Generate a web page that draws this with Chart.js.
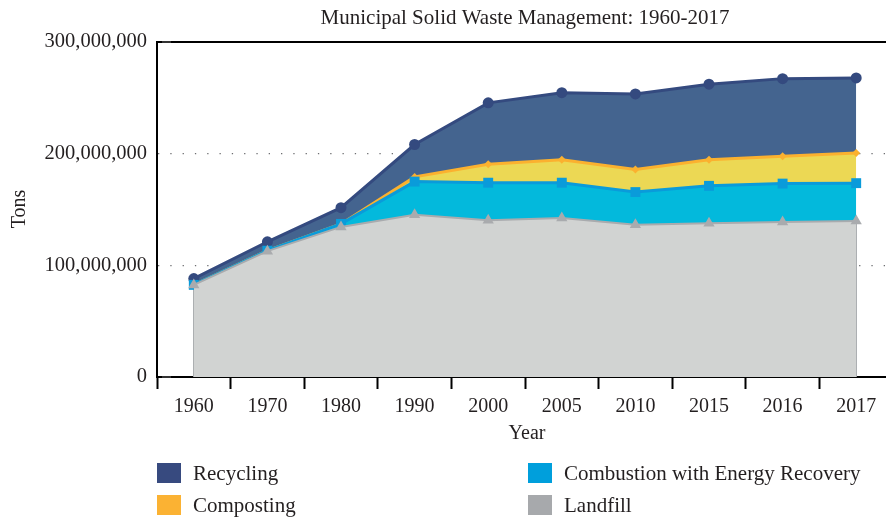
<!DOCTYPE html>
<html>
<head>
<meta charset="utf-8">
<script src="https://cdn.jsdelivr.net/npm/chart.js@4"></script>
<style>
  html, body { margin: 0; padding: 0; overflow: hidden; background: #fff; }
  #wrap { width: 900px; height: 517px; }
</style>
</head>
<body>
<div id="wrap"><canvas id="c" width="900" height="517"></canvas></div>
<script>
const title = 'Municipal Solid Waste Management: 1960-2017';
const years = ['1960', '1970', '1980', '1990', '2000', '2005', '2010', '2015', '2016', '2017'];
// stacked increments (tons)
const landfill   = [82500000, 112700000, 134400000, 145300000, 140300000, 142300000, 136300000, 137700000, 138900000, 139600000];
const combustion = [0, 400000, 2700000, 29700000, 33700000, 31700000, 29300000, 33500000, 34300000, 34000000];
const composting = [0, 0, 0, 4200000, 16500000, 20600000, 20200000, 23400000, 24500000, 27000000];
const recycling  = [5600000, 8000000, 14500000, 29000000, 55000000, 60000000, 67700000, 67600000, 69500000, 67200000];
const yTicks = [0, 100000000, 200000000, 300000000];
const legendItems = ['Recycling', 'Composting', 'Combustion with Energy Recovery', 'Landfill'];
const legendColors = ['#374A7F', '#FBB233', '#009FDC', '#A7A9AC'];

const FONT = '"Liberation Serif", "DejaVu Serif", serif';
const TEXT = '#231F20';

const decor = {
  id: 'decor',
  beforeDatasetsDraw(chart) {
    const { ctx, scales } = chart;
    const x = scales.x, y = scales.y;
    ctx.save();
    ctx.strokeStyle = '#A7A9AC';
    ctx.lineWidth = 1.5;
    [0, years.length - 1].forEach(i => {
      const px = x.getPixelForValue(i);
      ctx.beginPath();
      ctx.moveTo(px, y.getPixelForValue(landfill[i]));
      ctx.lineTo(px, y.getPixelForValue(0));
      ctx.stroke();
    });
    ctx.restore();
  },
  afterDraw(chart) {
    const { ctx, chartArea: a, scales } = chart;
    ctx.save();
    // top border
    ctx.strokeStyle = '#000';
    ctx.lineWidth = 2;
    ctx.beginPath();
    ctx.moveTo(a.left - 1, a.top);
    ctx.lineTo(a.right, a.top);
    ctx.stroke();
    // small inner y ticks at the ends
    ctx.strokeStyle = '#333';
    ctx.lineWidth = 2;
    [0, 300000000].forEach(v => {
      const py = scales.y.getPixelForValue(v);
      ctx.beginPath();
      ctx.moveTo(a.left + 5, py);
      ctx.lineTo(a.left + 14, py);
      ctx.stroke();
    });
    // title
    ctx.fillStyle = TEXT;
    ctx.font = '21px ' + FONT;
    ctx.textAlign = 'center';
    ctx.textBaseline = 'alphabetic';
    ctx.fillText(title, 525, 24);
    // axis titles
    ctx.font = '20px ' + FONT;
    ctx.fillText('Year', 527, 439);
    ctx.save();
    ctx.translate(25, 209);
    ctx.rotate(-Math.PI / 2);
    ctx.fillText('Tons', 0, 0);
    ctx.restore();
    // legend
    ctx.textAlign = 'left';
    ctx.textBaseline = 'middle';
    ctx.font = '21px ' + FONT;
    const cols = [157, 528];
    const rows = [473, 505];
    legendItems.forEach((t, i) => {
      const cx = cols[Math.floor(i / 2)];
      const cy = rows[i % 2];
      ctx.fillStyle = legendColors[i];
      ctx.fillRect(cx, cy - 10, 24, 20);
      ctx.fillStyle = TEXT;
      ctx.fillText(t, cx + 36, cy + 1);
    });
    ctx.restore();
  }
};

const ds = (label, data, fill, bg, line, lw, style, r) => ({
  label, data, fill,
  backgroundColor: bg, borderColor: line, borderWidth: lw,
  pointStyle: style, pointRadius: r, pointHoverRadius: r,
  pointBackgroundColor: line, pointBorderColor: line, pointBorderWidth: 0,
  tension: 0
});

new Chart(document.getElementById('c'), {
  type: 'line',
  data: {
    labels: years,
    datasets: [
      ds('Landfill', landfill, 'origin', '#D1D3D2', '#A9ABAE', 2, 'triangle', 6.5),
      ds('Combustion with Energy Recovery', combustion, '-1', '#03B9DC', '#0A9BDA', 3, 'rect', 7),
      ds('Composting', composting, '-1', '#ECD854', '#FBB12F', 3, 'rectRot', 4),
      ds('Recycling', recycling, '-1', '#44648F', '#344A7F', 3, 'circle', 5.5)
    ]
  },
  options: {
    responsive: false,
    animation: false,
    events: [],
    layout: { padding: { top: 42, right: 3, bottom: 0, left: 0 } },
    plugins: { legend: { display: false }, title: { display: false }, tooltip: { enabled: false } },
    scales: {
      x: {
        offset: true,
        grid: { offset: true, drawOnChartArea: false, drawTicks: true, tickLength: 12, tickColor: '#000', tickWidth: 2 },
        border: { color: '#000', width: 2 },
        ticks: { color: TEXT, font: { family: FONT, size: 20 }, padding: 6, maxRotation: 0, autoSkip: false },
        afterFit(s) { s.height = 140; }
      },
      y: {
        stacked: true,
        min: 0, max: 300000000,
        afterBuildTicks(s) { s.ticks = yTicks.map(v => ({ value: v })); },
        grid: {
          drawTicks: false,
          lineWidth: 1.3,
          color: c => (c.tick && (c.tick.value === 0 || c.tick.value === 300000000)) ? 'rgba(0,0,0,0)' : '#6d6e71'
        },
        border: { color: '#000', width: 2, dash: [1.3, 11] },
        ticks: {
          color: TEXT, font: { family: FONT, size: 20.5 }, padding: 10,
          callback: v => v.toLocaleString('en-US')
        },
        afterFit(s) { s.width = 157; }
      }
    }
  },
  plugins: [decor]
});
</script>
</body>
</html>
